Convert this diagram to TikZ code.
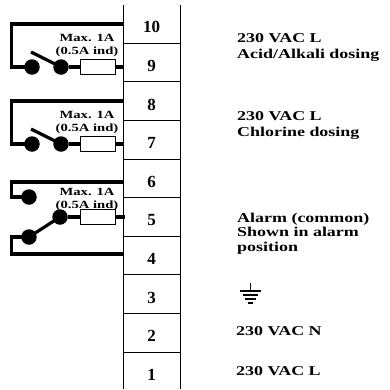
\documentclass[tikz,border=0pt]{standalone}
\usepackage{fontspec}
\setmainfont{Liberation Serif}
\newfontfamily\widefont[FakeStretch=1.33]{Liberation Serif}
\tikzset{
	wire/.style={line width=3.2pt},
	blockline/.style={line width=1pt},
	contact/.style={circle,fill,inner sep=0pt,minimum size=15.5pt},
	fuse/.style={draw,line width=0.8pt,minimum width=35pt,minimum height=15pt,inner sep=0pt},
	termnum/.style={font=\fontsize{17}{17}\selectfont\bfseries,inner sep=0pt},
	rating/.style={font=\widefont\bfseries\fontsize{11}{13}\selectfont,align=center,inner sep=0pt},
	sidelabel/.style={font=\widefont\bfseries\fontsize{13.5}{15.5}\selectfont,align=left,anchor=base west,inner sep=0pt}
}
\begin{document}
\begin{tikzpicture}[x=1pt,y=-1pt]
	\useasboundingbox (0,0) rectangle (390,389);
	% terminal block
	\draw[blockline] (123,5) -- (123,389);
	\draw[blockline] (180,5) -- (180,389);
	\foreach \k in {1,...,9}
		\draw[blockline] (123,4.6+38.6*\k) -- (181,4.6+38.6*\k);
	\foreach \n [count=\i from 0] in {10,9,...,1}
		\node[termnum] (t\n) at (151.5,27.4+38.6*\i) {\n};
	% two dosing relays, normally open
	\foreach \y/\r in {24/a,101/b}{
		\coordinate (\r top) at (123,\y);
		\coordinate (\r tl) at (11.7,\y);
		\coordinate (\r arm) at (31,\y+28);
		\coordinate (\r end) at (123,\y+43);
		\node[contact] (\r c1) at (32,\y+43) {};
		\node[contact] (\r c2) at (61,\y+43) {};
		\node[fuse] (\r f) at (97.5,\y+43) {};
		\node[rating] (\r max) at (87,\y+22) {Max. 1A\\(0.5A ind)};
		\draw[wire] (\r top) -- (\r tl) |- (\r c1.center);
		\draw[wire] (\r arm) -- (\r c2.center);
		\draw[wire] (\r c2) -- (\r f);
		\draw[wire] (\r f) -- (\r end);
	}
	% alarm relay, change-over
	\coordinate (ctop) at (123,182);
	\coordinate (ctl) at (11.7,182);
	\coordinate (cbot) at (123,254);
	\coordinate (cbl) at (11.7,254);
	\coordinate (cend) at (125,217);
	\node[contact] (nc) at (29,197) {};
	\node[contact] (com) at (60,217) {};
	\node[contact] (no) at (29,237) {};
	\node[fuse] (cf) at (97.5,217) {};
	\node[rating] (cmax) at (87,199.5) {Max. 1A\\(0.5A ind)};
	\draw[wire] (ctop) -- (ctl) |- (nc.center);
	\draw[wire] (cbot) -- (cbl) |- (no.center);
	\draw[wire] (no.center) -- (com.center);
	\draw[wire] (com) -- (cf);
	\draw[wire] (cf) -- (cend);
	% labels
	\node[sidelabel] (l10) at (237,58) {230 VAC L\\Acid/Alkali dosing};
	\node[sidelabel] (l8) at (237,136) {230 VAC L\\Chlorine dosing};
	\node[sidelabel,font=\widefont\bfseries\fontsize{13.5}{14.5}\selectfont] (l5) at (237,251) {Alarm (common)\\Shown in alarm\\position};
	\node[sidelabel] (l2) at (236,335) {230 VAC N};
	\node[sidelabel] (l1) at (236,375) {230 VAC L};
	% earth
	\coordinate (gnd) at (250.7,283);
	\draw[line width=1pt] (gnd) -- ++(0,8);
	\draw[line width=1.2pt] (gnd) ++(-10.5,8) -- ++(21,0);
	\draw[line width=1.2pt] (gnd) ++(-7.5,12) -- ++(15,0);
	\draw[line width=1.2pt] (gnd) ++(-5.5,16) -- ++(11,0);
	\draw[line width=1.2pt] (gnd) ++(-2.5,20) -- ++(5,0);
\end{tikzpicture}
\end{document}
